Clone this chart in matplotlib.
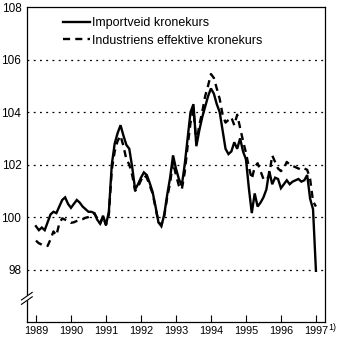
import numpy as np
import matplotlib
matplotlib.use("Agg")
import matplotlib.pyplot as plt
from matplotlib.lines import Line2D

plt.rcParams['font.family'] = ['Liberation Sans', 'DejaVu Sans']

start_year = 1989
series_names = ["Importveid kronekurs", "Industriens effektive kronekurs"]

# Monthly values Jan 1989 .. Jan 1997
importveid = [
    99.65, 99.5, 99.6, 99.5, 99.8, 100.1, 100.2, 100.15, 100.4, 100.65, 100.75, 100.5,
    100.35, 100.5, 100.65, 100.55, 100.4, 100.3, 100.2, 100.2, 100.15, 99.9, 99.75, 100.05,
    99.7, 100.2, 102.0, 102.8, 103.2, 103.5, 103.1, 102.75, 102.6, 101.9, 101.05, 101.25,
    101.5, 101.7, 101.6, 101.3, 100.95, 100.4, 99.8, 99.65, 100.1, 100.85, 101.5, 102.35,
    101.85, 101.45, 101.2, 102.0, 103.0, 104.0, 104.3, 102.7, 103.3, 103.8, 104.2, 104.6,
    104.9, 104.7, 104.3, 104.0, 103.3, 102.6, 102.4, 102.5, 102.85, 102.6, 103.0, 102.5,
    102.2, 101.1, 100.15, 100.9, 100.4, 100.55, 100.75, 101.05, 101.75, 101.25, 101.5, 101.45,
    101.1, 101.25, 101.4, 101.25, 101.35, 101.4, 101.45, 101.35, 101.4, 101.6, 100.7, 100.3,
    97.95,
]
industriens = [
    99.1, 99.0, 98.95, 98.9, 98.9, 99.15, 99.45, 99.3, 99.75, 99.95, 99.9, 99.85,
    99.78, 99.8, 99.85, 99.9, 99.92, 99.97, 100.0, 100.1, 100.15, 99.95, 99.75, 100.0,
    99.7, 100.1, 101.8, 102.5, 102.9, 103.1, 102.7, 102.2, 102.0, 101.6, 101.0, 101.15,
    101.4, 101.6, 101.5, 101.2, 100.9, 100.35, 99.8, 99.7, 100.05, 100.75, 101.3, 102.1,
    101.6, 101.2, 101.05, 101.7, 102.7, 103.6, 104.1, 102.8, 103.5, 104.0, 104.6, 105.0,
    105.45, 105.3, 104.9, 104.5, 103.9, 103.6, 103.7, 103.8, 103.5, 103.9, 103.4, 102.9,
    102.45, 101.9, 101.45, 101.9, 102.05, 101.75, 101.45, 101.4, 101.6, 102.35, 102.1, 101.85,
    101.75, 101.85, 102.1, 102.0, 101.95, 101.9, 101.85, 101.8, 101.85, 101.8, 101.45, 100.6,
    100.4,
]
year_ticks = [1989, 1990, 1991, 1992, 1993, 1994, 1995, 1996, 1997]
y_ticks = [98, 100, 102, 104, 106, 108]

t = start_year + np.arange(len(importveid)) / 12.0

fig = plt.figure(figsize=(3.4, 3.4), dpi=100)
ax = fig.add_axes([0.079, 0.053, 0.877, 0.926])

for yv in y_ticks[:-1]:
    ax.axhline(yv, color='black', lw=0.9, linestyle=(0, (1.5, 3.5)), zorder=1)

ax.plot(t, importveid, color='black', lw=1.7, solid_joinstyle='miter', zorder=3,
        label=series_names[0])
ax.plot(t, industriens, color='black', lw=1.7, linestyle=(0, (3, 2.2)), zorder=2,
        label=series_names[1])

ax.set_xlim(1988.74, 1997.26)
ax.set_ylim(96, 108)
ax.set_yticks(y_ticks)
ax.set_yticklabels([str(v) for v in y_ticks], fontsize=8.5)
ax.set_xticks(year_ticks)
ax.set_xticklabels([str(v) for v in year_ticks], fontsize=7.8)
ax.tick_params(axis='y', length=0, pad=4)
ax.tick_params(axis='x', direction='in', length=5, width=0.8, pad=3)
for s in ax.spines.values():
    s.set_linewidth(0.9)

ax.text(1.012, -0.016, "1)", transform=ax.transAxes, fontsize=6.3,
        ha='left', va='center')

# axis break mark on the left spine
yb = (96.9 - 96) / 12.0
ax.add_line(Line2D([-0.006, 0.006], [yb - 0.004, yb + 0.004], transform=ax.transAxes,
                   color='white', lw=3, clip_on=False, zorder=5))
for dy in (-0.007, 0.007):
    ax.add_line(Line2D([-0.018, 0.018], [yb + dy - 0.012, yb + dy + 0.012],
                       transform=ax.transAxes, color='black', lw=0.8,
                       clip_on=False, zorder=6))

ax.legend(loc='upper left', bbox_to_anchor=(0.12, 0.968), frameon=False,
          fontsize=9, handlelength=2.2, handletextpad=0.15, labelspacing=0.45,
          borderpad=0, borderaxespad=0)

fig.savefig("out.png", dpi=100)
